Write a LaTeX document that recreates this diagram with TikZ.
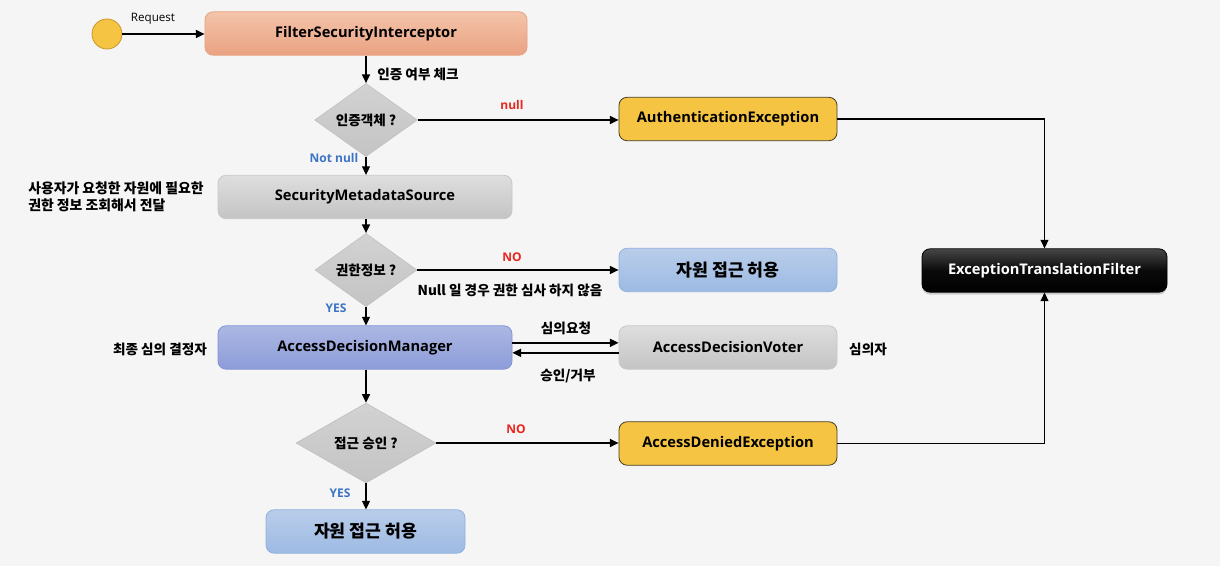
\documentclass[tikz,border=0pt]{standalone}
\usepackage{fontspec}
\setmainfont{Open Sans}
\newfontfamily\kr{Noto Sans CJK KR}
\usetikzlibrary{shapes.geometric,arrows.meta,shadows}
\definecolor{bg}{HTML}{F5F5F5}
\definecolor{redl}{HTML}{E8261E}
\definecolor{bluel}{HTML}{3B74C4}
\tikzset{
  box/.style={rounded corners=6pt, minimum height=32.5pt, inner sep=2pt, font=\bfseries\fontsize{11}{13}\selectfont, line width=0.6pt},
  salmonbox/.style={box, draw={rgb,255:red,231;green,162;blue,127}, top color={rgb,255:red,244;green,196;blue,170}, bottom color={rgb,255:red,233;green,162;blue,130}},
  yellowbox/.style={box, draw={rgb,255:red,70;green,60;blue,30}, fill={rgb,255:red,245;green,196;blue,67}},
  greybox/.style={box, draw={rgb,255:red,200;green,200;blue,200}, top color={rgb,255:red,222;green,222;blue,222}, bottom color={rgb,255:red,196;green,196;blue,196}},
  bluebox/.style={box, draw={rgb,255:red,143;green,176;blue,222}, top color={rgb,255:red,185;green,205;blue,234}, bottom color={rgb,255:red,157;green,186;blue,227}, font=\kr\bfseries\fontsize{12.9}{15}\selectfont},
  purplebox/.style={box, draw={rgb,255:red,127;green,147;blue,217}, top color={rgb,255:red,172;green,183;blue,227}, bottom color={rgb,255:red,140;green,156;blue,216}},
  blackbox/.style={box, draw=black, top color={rgb,255:red,70;green,70;blue,70}, bottom color=black, middle color={rgb,255:red,10;green,10;blue,10}, text=white, drop shadow={opacity=0.35, shadow xshift=0pt, shadow yshift=-1.8pt}},
  dia/.style={diamond, draw={rgb,255:red,190;green,190;blue,190}, top color={rgb,255:red,210;green,210;blue,210}, bottom color={rgb,255:red,196;green,196;blue,196}, inner sep=0pt, font=\kr\bfseries\fontsize{10.2}{12}\selectfont},
  arr/.style={-{Triangle[length=6.5pt,width=6pt]}, line width=1.1pt, black},
  lbl/.style={inner sep=0pt, font=\kr\bfseries\fontsize{10.2}{12}\selectfont},
  redlbl/.style={inner sep=0pt, text=redl, font=\bfseries\fontsize{9}{11}\selectfont},
  bluelbl/.style={inner sep=0pt, text=bluel, font=\bfseries\fontsize{9}{11}\selectfont},
}
\begin{document}
\begin{tikzpicture}[x=0.75pt, y=-0.75pt]
\fill[bg] (0,0) rectangle (1220,566);
\useasboundingbox (0,0) rectangle (1220,566);

% nodes
\node[circle, minimum size=22.5pt, inner sep=0pt, draw={rgb,255:red,200;green,150;blue,45}, line width=0.6pt, fill={rgb,255:red,245;green,196;blue,67}] (start) at (107,34) {};
\node[salmonbox, minimum width=241.5pt] (fsi) at (366,33.5) {FilterSecurityInterceptor};
\node[dia, minimum width=77pt, minimum height=39pt] (d1) at (366,120) {인증객체 ?};
\node[yellowbox, minimum width=163.5pt] (auth) at (728,119) {AuthenticationException};
\node[greybox, minimum width=220.5pt] (sms) at (365,197) {SecurityMetadataSource};
\node[dia, minimum width=76.5pt, minimum height=38.5pt] (d2) at (366,270) {권한정보 ?};
\node[bluebox, minimum width=163.5pt] (ok1) at (728,270) {자원 접근 허용};
\node[purplebox, minimum width=220.5pt] (adm) at (365,347.5) {AccessDecisionManager};
\node[greybox, minimum width=163.5pt] (adv) at (728,347.5) {AccessDecisionVoter};
\node[dia, minimum width=105pt, minimum height=60pt] (d3) at (366,443) {접근 승인 ?};
\node[yellowbox, minimum width=163.5pt] (denied) at (728,443.5) {AccessDeniedException};
\node[bluebox, minimum width=149.25pt] (ok2) at (365.5,531.5) {자원 접근 허용};
\node[blackbox, minimum width=183.75pt] (etf) at (1044.5,270.5) {ExceptionTranslationFilter};

% connectors
\draw[arr] (start) -- (fsi.west |- start);
\draw[arr] (fsi.south -| d1) -- (d1.north);
\draw[arr] (d1.east) -- (auth.west |- d1.east);
\draw[arr] (d1.south) -- (sms.north -| d1);
\draw[arr] (sms.south -| d2) -- (d2.north);
\draw[arr] (d2.east) -- (ok1.west |- d2.east);
\draw[arr] (d2.south) -- (adm.north -| d2);
\draw[arr] ([yshift=3.5pt]adm.east) -- ([yshift=3.5pt]adv.west);
\draw[arr] ([yshift=-4pt]adv.west) -- ([yshift=-4pt]adm.east);
\draw[arr] (adm.south -| d3) -- (d3.north);
\draw[arr] (d3.east) -- (denied.west |- d3.east);
\draw[arr] (d3.south) -- (ok2.north -| d3);
\draw[arr, line width=0.9pt] (auth.east) -| (etf.north);
\draw[arr, line width=0.9pt] (denied.east) -| (etf.south);

% labels
\node[inner sep=0pt, font=\fontsize{8.7}{10}\selectfont] (lreq) at (153,19) {Request};
\node[lbl] (lchk) at (418,74) {인증 여부 체크};
\node[redlbl] (lnull) at (512,105) {null};
\node[bluelbl] (lnn) at (334,158) {Not null};
\node[lbl, anchor=west, align=left, font=\kr\bfseries\fontsize{10.4}{12.8}\selectfont] (lsms) at (28,197) {사용자가 요청한 자원에 필요한\\권한 정보 조회해서 전달};
\node[redlbl] (lno1) at (512,257) {NO};
\node[lbl] (lnullno) at (510,290) {Null 일 경우 권한 심사 하지 않음};
\node[bluelbl] (lyes1) at (336,308) {YES};
\node[lbl] (lfinal) at (160,349) {최종 심의 결정자};
\node[lbl] (lreqv) at (566,328) {심의요청};
\node[lbl] (lresp) at (568,376) {승인/거부};
\node[lbl] (lvoter) at (868,349) {심의자};
\node[redlbl] (lno2) at (516,429) {NO};
\node[bluelbl] (lyes2) at (340,493) {YES};
\end{tikzpicture}
\end{document}
